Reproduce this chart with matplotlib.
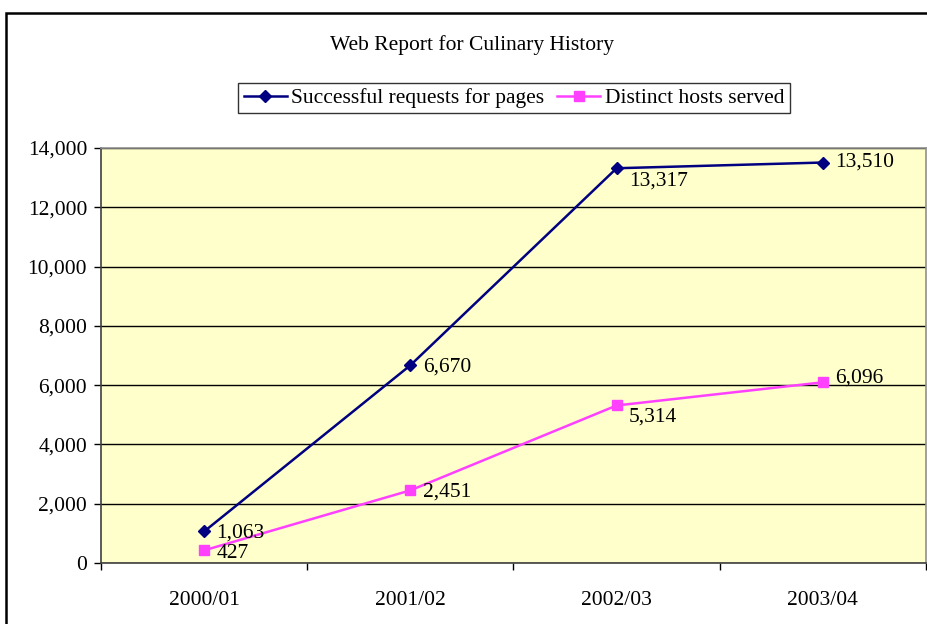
import matplotlib.pyplot as plt
from matplotlib.patches import Rectangle
from matplotlib.ticker import FuncFormatter, FixedLocator

years = ['2000/01', '2001/02', '2002/03', '2003/04']
requests = [1063, 6670, 13317, 13510]
hosts = [427, 2451, 5314, 6096]

plt.rcParams['font.family'] = ['Liberation Serif', 'DejaVu Serif']
fs = 15.5

fig = plt.figure(figsize=(9.28, 6.24), dpi=100)
ax = fig.add_axes([101 / 928, 61 / 624, 825 / 928, 415 / 624])
ax.set_facecolor('#FFFFCC')

x = list(range(len(years)))
ax.plot(x, requests, color='#000080', lw=1.8, marker='D', ms=6.5,
        label='Successful requests for pages', zorder=3)
ax.plot(x, hosts, color='#FF40FF', lw=1.8, marker='s', ms=6.5,
        label='Distinct hosts served', zorder=3)

# подписи значений
req_off = [(9, -1), (9, -1), (9, -9), (9, 0)]
host_off = [(9, -2), (9, -1), (9, -8), (9, 3)]
for i in x:
    ax.annotate(f'{requests[i]:,}', (i, requests[i]), xytext=req_off[i],
                textcoords='offset points', va='center', ha='left', fontsize=fs)
    ax.annotate(f'{hosts[i]:,}', (i, hosts[i]), xytext=host_off[i],
                textcoords='offset points', va='center', ha='left', fontsize=fs)

ax.set_xlim(-0.5, 3.5)
ax.set_ylim(0, 14000)
ax.set_yticks(range(0, 14001, 2000))
ax.yaxis.set_major_formatter(FuncFormatter(lambda v, p: f'{int(v):,}'))
ax.grid(axis='y', color='black', lw=1)
ax.set_axisbelow(True)

ax.set_xticks(x)
ax.set_xticklabels(years)
ax.xaxis.set_minor_locator(FixedLocator([-0.5, 0.5, 1.5, 2.5, 3.5]))
ax.tick_params(axis='x', which='major', length=0, pad=20, labelsize=fs)
ax.tick_params(axis='x', which='minor', length=5, width=1, direction='out')
ax.tick_params(axis='y', length=5, width=1, labelsize=fs, pad=5)

for s in ['top', 'right']:
    ax.spines[s].set_color('#909090')
for s in ['left', 'bottom']:
    ax.spines[s].set_color('#404040')
for s in ax.spines.values():
    s.set_linewidth(1.2)

fig.text(472 / 928, 1 - 45 / 624, 'Web Report for Culinary History',
         ha='center', va='center', fontsize=fs)

leg = fig.legend(loc='center', bbox_to_anchor=(514 / 928, 1 - 98 / 624), ncol=2,
                 fontsize=fs, frameon=True, fancybox=False, handlelength=2.0,
                 handletextpad=0.2, columnspacing=0.6, borderpad=0.25,
                 borderaxespad=0)
leg.get_frame().set_edgecolor('black')
leg.get_frame().set_linewidth(1)

# рамка вокруг рисунка
fig.patches.append(Rectangle((6 / 928, -0.1), 1.2, 1.1 - 13 / 624, transform=fig.transFigure,
                             fill=False, edgecolor='black', lw=1.8))

plt.savefig('out.png', dpi=100)
